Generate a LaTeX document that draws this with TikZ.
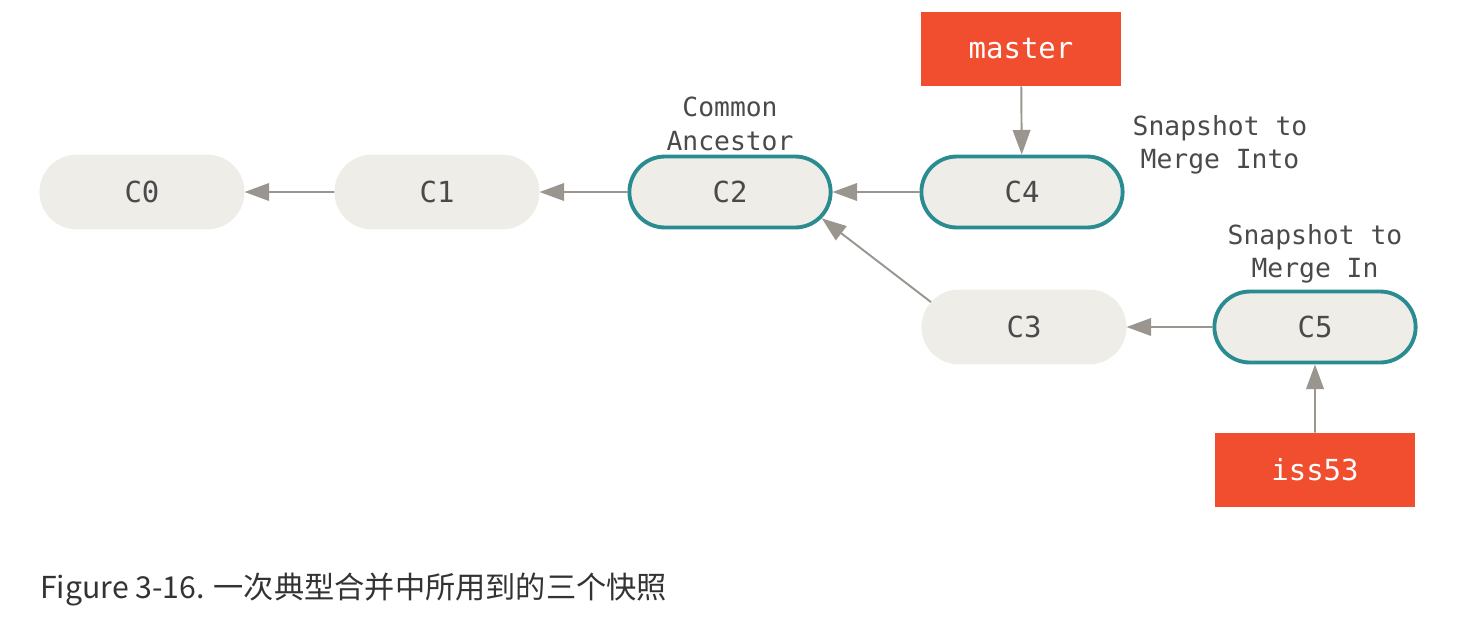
\documentclass[tikz,border=0pt]{standalone}
\usepackage{fontspec}
\setmonofont{DejaVu Sans Mono}
\newfontfamily\cjk{Noto Sans CJK SC}
\usepackage{tikz}
\usetikzlibrary{positioning, shapes.misc, arrows.meta}

\definecolor{commitfill}{HTML}{EEEDE8}
\definecolor{commitedge}{HTML}{2A8C90}
\definecolor{branchred}{HTML}{F04E2E}
\definecolor{arrowgrey}{HTML}{9A958F}
\definecolor{textgrey}{HTML}{4A4A4A}

\begin{document}
\begin{tikzpicture}[x=0.02cm, y=-0.02cm,
    commit/.style={rounded rectangle, fill=commitfill, draw=commitfill, line width=2.2pt,
      minimum width=4.26cm, minimum height=1.42cm, text=textgrey,
      font=\ttfamily\fontsize{16.5}{19}\selectfont},
    snap/.style={commit, draw=commitedge},
    branch/.style={rectangle, fill=branchred, minimum width=4cm, minimum height=1.48cm,
      text=white, font=\ttfamily\fontsize{16.5}{19}\selectfont},
    note/.style={align=center, text=textgrey, font=\ttfamily\fontsize{15}{19}\selectfont},
    link/.style={-{Triangle[length=14pt,width=10pt]}, line width=1.1pt, draw=arrowgrey}]
    \useasboundingbox (0,0) rectangle (1484,627);

    % Commits
    \foreach \n/\x/\y in {C0/142/192, C1/437/192, C3/1024/327} {
      \node[commit] (\n) at (\x,\y) {\n};
    }
    \foreach \n/\x/\y in {C2/730/192, C4/1022/192, C5/1315/327} {
      \node[snap] (\n) at (\x,\y) {\n};
    }

    % Branches
    \node[branch] (master) at (1021,49) {master};
    \node[branch] (iss53) at (1315,470) {iss53};

    % Notes
    \node[note] (ancestor) at (730,124) {Common\\Ancestor};
    \node[note] (into) at (1220,145) {Snapshot to\\Merge Into};
    \node[note] (in) at (1315,254) {Snapshot to\\Merge In};

    % Parents
    \draw[link] (C1) -- (C0);
    \draw[link] (C2) -- (C1);
    \draw[link] (C4) -- (C2);
    \draw[link] (C3.165) -- (C2.-16);
    \draw[link] (C5) -- (C3);
    \draw[link] (master) -- (C4);
    \draw[link] (iss53) -- (C5);

    % Caption
    \node[anchor=west, text=black!80, font=\cjk\fontsize{17.2}{20}\selectfont] (caption) at (34,590)
      {Figure 3-16. 一次典型合并中所用到的三个快照};
\end{tikzpicture}
\end{document}
